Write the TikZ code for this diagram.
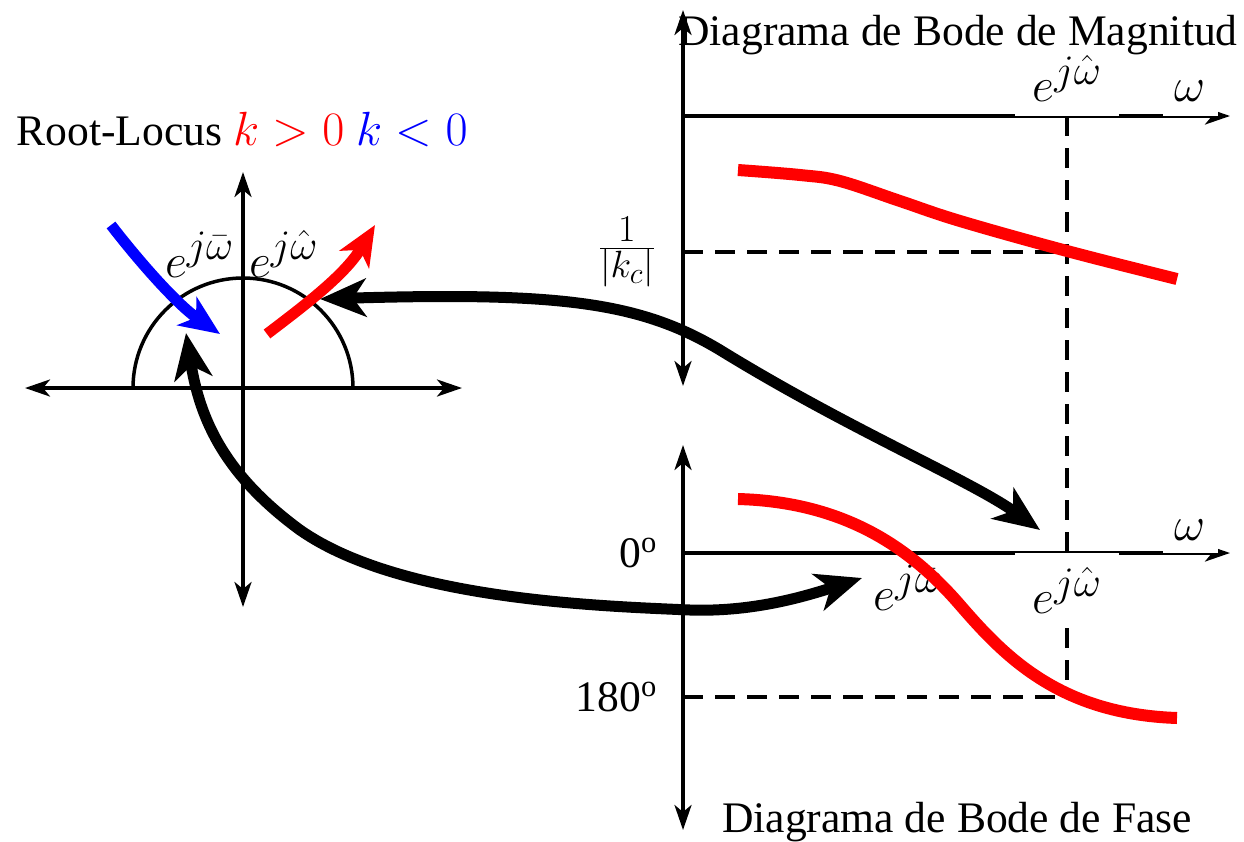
\RequirePackage{fix-cm}
\documentclass[tikz,border=0pt]{standalone}
\usepackage{fontspec}
\setmainfont{Liberation Serif}
\usetikzlibrary{arrows.meta}
\DeclareMathSizes{48}{48}{42}{32}
\DeclareMathSizes{50}{50}{38}{30}
\begin{document}
\begin{tikzpicture}[x=1pt,y=-1pt,
  ax/.style={line width=3.5pt,{Stealth[length=25pt,width=17pt,inset=7pt]}-{Stealth[length=25pt,width=17pt,inset=7pt]}},
  axr/.style={line width=3.5pt,-{Stealth[length=25pt,width=17pt,inset=7pt]}},
  guide/.style={line width=3.5pt,dash pattern=on 20pt off 12pt},
  curve/.style={red,line width=12pt},
  locus/.style={line width=11pt,-{Stealth[length=40pt,width=34pt,inset=11pt]}},
  big/.style={line width=11pt,{Stealth[length=46pt,width=38pt,inset=13pt]}-{Stealth[length=46pt,width=38pt,inset=13pt]}},
  lbl/.style={font=\fontsize{43.6}{50}\selectfont, inner sep=0pt},
  mlbl/.style={font=\fontsize{48}{54}\selectfont, inner sep=0pt},
  flbl/.style={font=\fontsize{50}{56}\selectfont, inner sep=0pt},
  wl/.style={mlbl, fill=white},
]
\useasboundingbox (0,0) rectangle (1244,841);

% ---------- Root locus ----------
\node[lbl, anchor=base] (rltitle) at (242,145) {Root-Locus {\fontsize{48}{54}\selectfont\textcolor{red}{$k>0$} \textcolor{blue}{$k<0$}}};
\coordinate (rlW) at (25,388);
\coordinate (rlE) at (462,388);
\coordinate (rlN) at (243,172);
\coordinate (rlS) at (243,607);
\coordinate (arcL) at (133,388);
\draw[ax] (rlW) -- (rlE);
\draw[ax] (rlN) -- (rlS);
\draw[line width=3.5pt] (arcL) arc[start angle=180, end angle=360, radius=110];
\node[mlbl, anchor=base east, inner sep=2pt] (wbarRL) at (236,277) {$e^{j\bar\omega}$};
\node[mlbl, anchor=base west, inner sep=2pt] (whatRL) at (247,277) {$e^{j\hat\omega}$};
\coordinate (blueS) at (111,225);
\coordinate (blueE) at (220,334);
\coordinate (redS) at (267,334);
\coordinate (redE) at (375,225);
\draw[locus, blue] (blueS) .. controls (142,265) and (178,305) .. (blueE);
\draw[locus, red] (redS) .. controls (305,305) and (345,275) .. (redE);

% ---------- Bode magnitude ----------
\coordinate (mN) at (683,10);
\coordinate (mS) at (683,386);
\coordinate (mO) at (683,116);
\coordinate (mE) at (1230,116);
\coordinate (mK) at (683,252);
\coordinate (mX) at (1067,252);
\coordinate (mT) at (1067,116);
\coordinate (pB) at (1067,697);
\draw[axr] (mO) -- (mE);
\draw[guide] (mK) -- (mX);
\draw[guide] (mT) -- (pB);
\node[wl, anchor=south, inner xsep=18pt, inner ysep=4pt, text depth=10pt] (whatM) at (1067,116) {$e^{j\hat\omega}$};
\node[wl, anchor=south, inner xsep=12pt, inner ysep=4pt, text depth=10pt] (omM) at (1190,116) {$\omega$};
\node[lbl, anchor=base] (magtitle) at (958,45) {Diagrama de Bode de Magnitud};
\draw[ax] (mN) -- (mS);
\node[flbl, anchor=east] (kc) at (655,252) {$\frac{1}{|k_c|}$};
\draw[curve] plot[smooth, tension=0.6] coordinates {(738,170) (800,175) (840,181) (900,201) (960,221) (1067,251) (1177,279)};

% ---------- Bode phase ----------
\node[lbl, anchor=base] (phtitle) at (957,832) {Diagrama de Bode de Fase};
\coordinate (pN) at (683,445);
\coordinate (pS) at (683,830);
\coordinate (pO) at (683,553);
\coordinate (pE) at (1230,553);
\coordinate (pK) at (683,697);
\draw[ax] (pN) -- (pS);
\draw[axr] (pO) -- (pE);
\draw[guide] (pK) -- (pB);
\node[wl, anchor=north, inner xsep=18pt, inner ysep=14pt] (whatP) at (1067,553) {$e^{j\hat\omega}$};
\node[wl, anchor=south, inner xsep=12pt, inner ysep=4pt, text depth=8pt] (omP) at (1190,553) {$\omega$};
\node[mlbl, anchor=base] (wbarP) at (908,610) {$e^{j\bar\omega}$};
\node[lbl, anchor=east] (zero) at (657,553) {0\textsuperscript{o}};
\node[lbl, anchor=east] (oneeighty) at (657,697) {180\textsuperscript{o}};
\draw[curve] (738,499) .. controls (850,502) and (915,553) .. (960,605) .. controls (1005,657) and (1060,714) .. (1177,718);

% ---------- connecting arrows ----------
\draw[big] (320,299) .. controls (560,292) and (640,302) .. (720,350) .. controls (850,430) and (970,480) .. (1040,530);
\draw[big] (186,333) .. controls (200,420) and (225,475) .. (300,530) .. controls (400,600) and (600,606) .. (690,610) .. controls (750,612) and (800,598) .. (862,578);
\end{tikzpicture}
\end{document}
